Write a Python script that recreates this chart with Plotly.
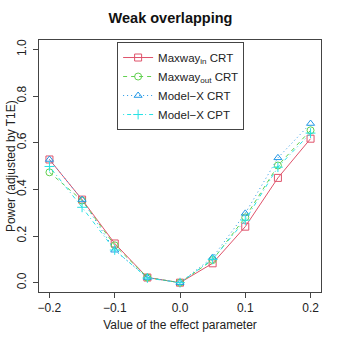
import plotly.graph_objects as go

# effect parameter values
effect = [-0.2, -0.15, -0.1, -0.05, 0.0, 0.05, 0.1, 0.15, 0.2]

# power (adjusted by T1E)
maxway_in = [0.528, 0.356, 0.168, 0.022, 0.0, 0.083, 0.240, 0.449, 0.617]
maxway_out = [0.473, 0.352, 0.160, 0.022, 0.0, 0.097, 0.280, 0.502, 0.653]
modelx_crt = [0.528, 0.356, 0.139, 0.022, 0.0, 0.108, 0.297, 0.535, 0.682]
modelx_cpt = [0.498, 0.323, 0.140, 0.020, 0.0, 0.100, 0.268, 0.495, 0.641]

names = ["Maxway<sub>in</sub> CRT", "Maxway<sub>out</sub> CRT", "Model\u2212X CRT", "Model\u2212X CPT"]
series = [maxway_in, maxway_out, modelx_crt, modelx_cpt]
colors = ["#DF536B", "#61D04F", "#2297E6", "#28E2E5"]
# R lty 1..4
dashes = ["solid", "4px,4px", "1px,3px", "1px,3px,4px,3px"]
symbols = ["square-open", "circle-open", "triangle-up-open", "cross-thin-open"]

fig = go.Figure()
for name, vals, col, dsh, sym in zip(names, series, colors, dashes, symbols):
    fig.add_trace(go.Scatter(
        x=effect, y=vals, name=name, mode="lines+markers",
        line=dict(color=col, width=1, dash=dsh),
        marker=dict(symbol=sym, size=7, color=col, line=dict(color=col, width=1)),
    ))

axis_style = dict(showline=True, mirror=True, linecolor="#444", linewidth=1,
                  ticks="outside", ticklen=5, tickcolor="#444", showgrid=False,
                  zeroline=False, automargin=False,
                  tickfont=dict(size=12, color="#222"))

fig.update_layout(
    width=341, height=341,
    margin=dict(l=39, r=20, t=40, b=49),
    paper_bgcolor="white", plot_bgcolor="white",
    font=dict(family="Liberation Sans, Arial, sans-serif", size=12, color="#222"),
    title=dict(text="<b>Weak overlapping</b>", x=0.5, xanchor="center",
               y=0.947, yanchor="middle", font=dict(size=14.5, color="#111")),
    xaxis=dict(range=[-0.216, 0.216], tickvals=[-0.2, -0.1, 0.0, 0.1, 0.2],
               ticktext=["\u22120.2", "\u22120.1", "0.0", "0.1", "0.2"],
               title=dict(text="Value of the effect parameter", font=dict(size=12), standoff=6),
               **axis_style),
    yaxis=dict(range=[-0.04, 1.04], tickvals=[0, 0.2, 0.4, 0.6, 0.8, 1.0],
               ticktext=["0.0", "0.2", "0.4", "0.6", "0.8", "1.0"], tickangle=-90,
               ticklabelstandoff=2, **axis_style),
    legend=dict(x=0.277, y=0.992, xanchor="left", yanchor="top",
                bordercolor="#444", borderwidth=1, bgcolor="white",
                font=dict(size=11.5, color="#222"), tracegroupgap=0),
    annotations=[dict(text="Power (adjusted by T1E)", xref="paper", yref="paper",
                      x=-0.099, y=0.5, xanchor="center", yanchor="middle",
                      textangle=-90, showarrow=False, font=dict(size=12, color="#222"))],
)

# drop the default 8px body margin so the figure fills the window
fig.write_html("out.html", config={"displayModeBar": False},
               post_script="document.body.style.margin='0';")
